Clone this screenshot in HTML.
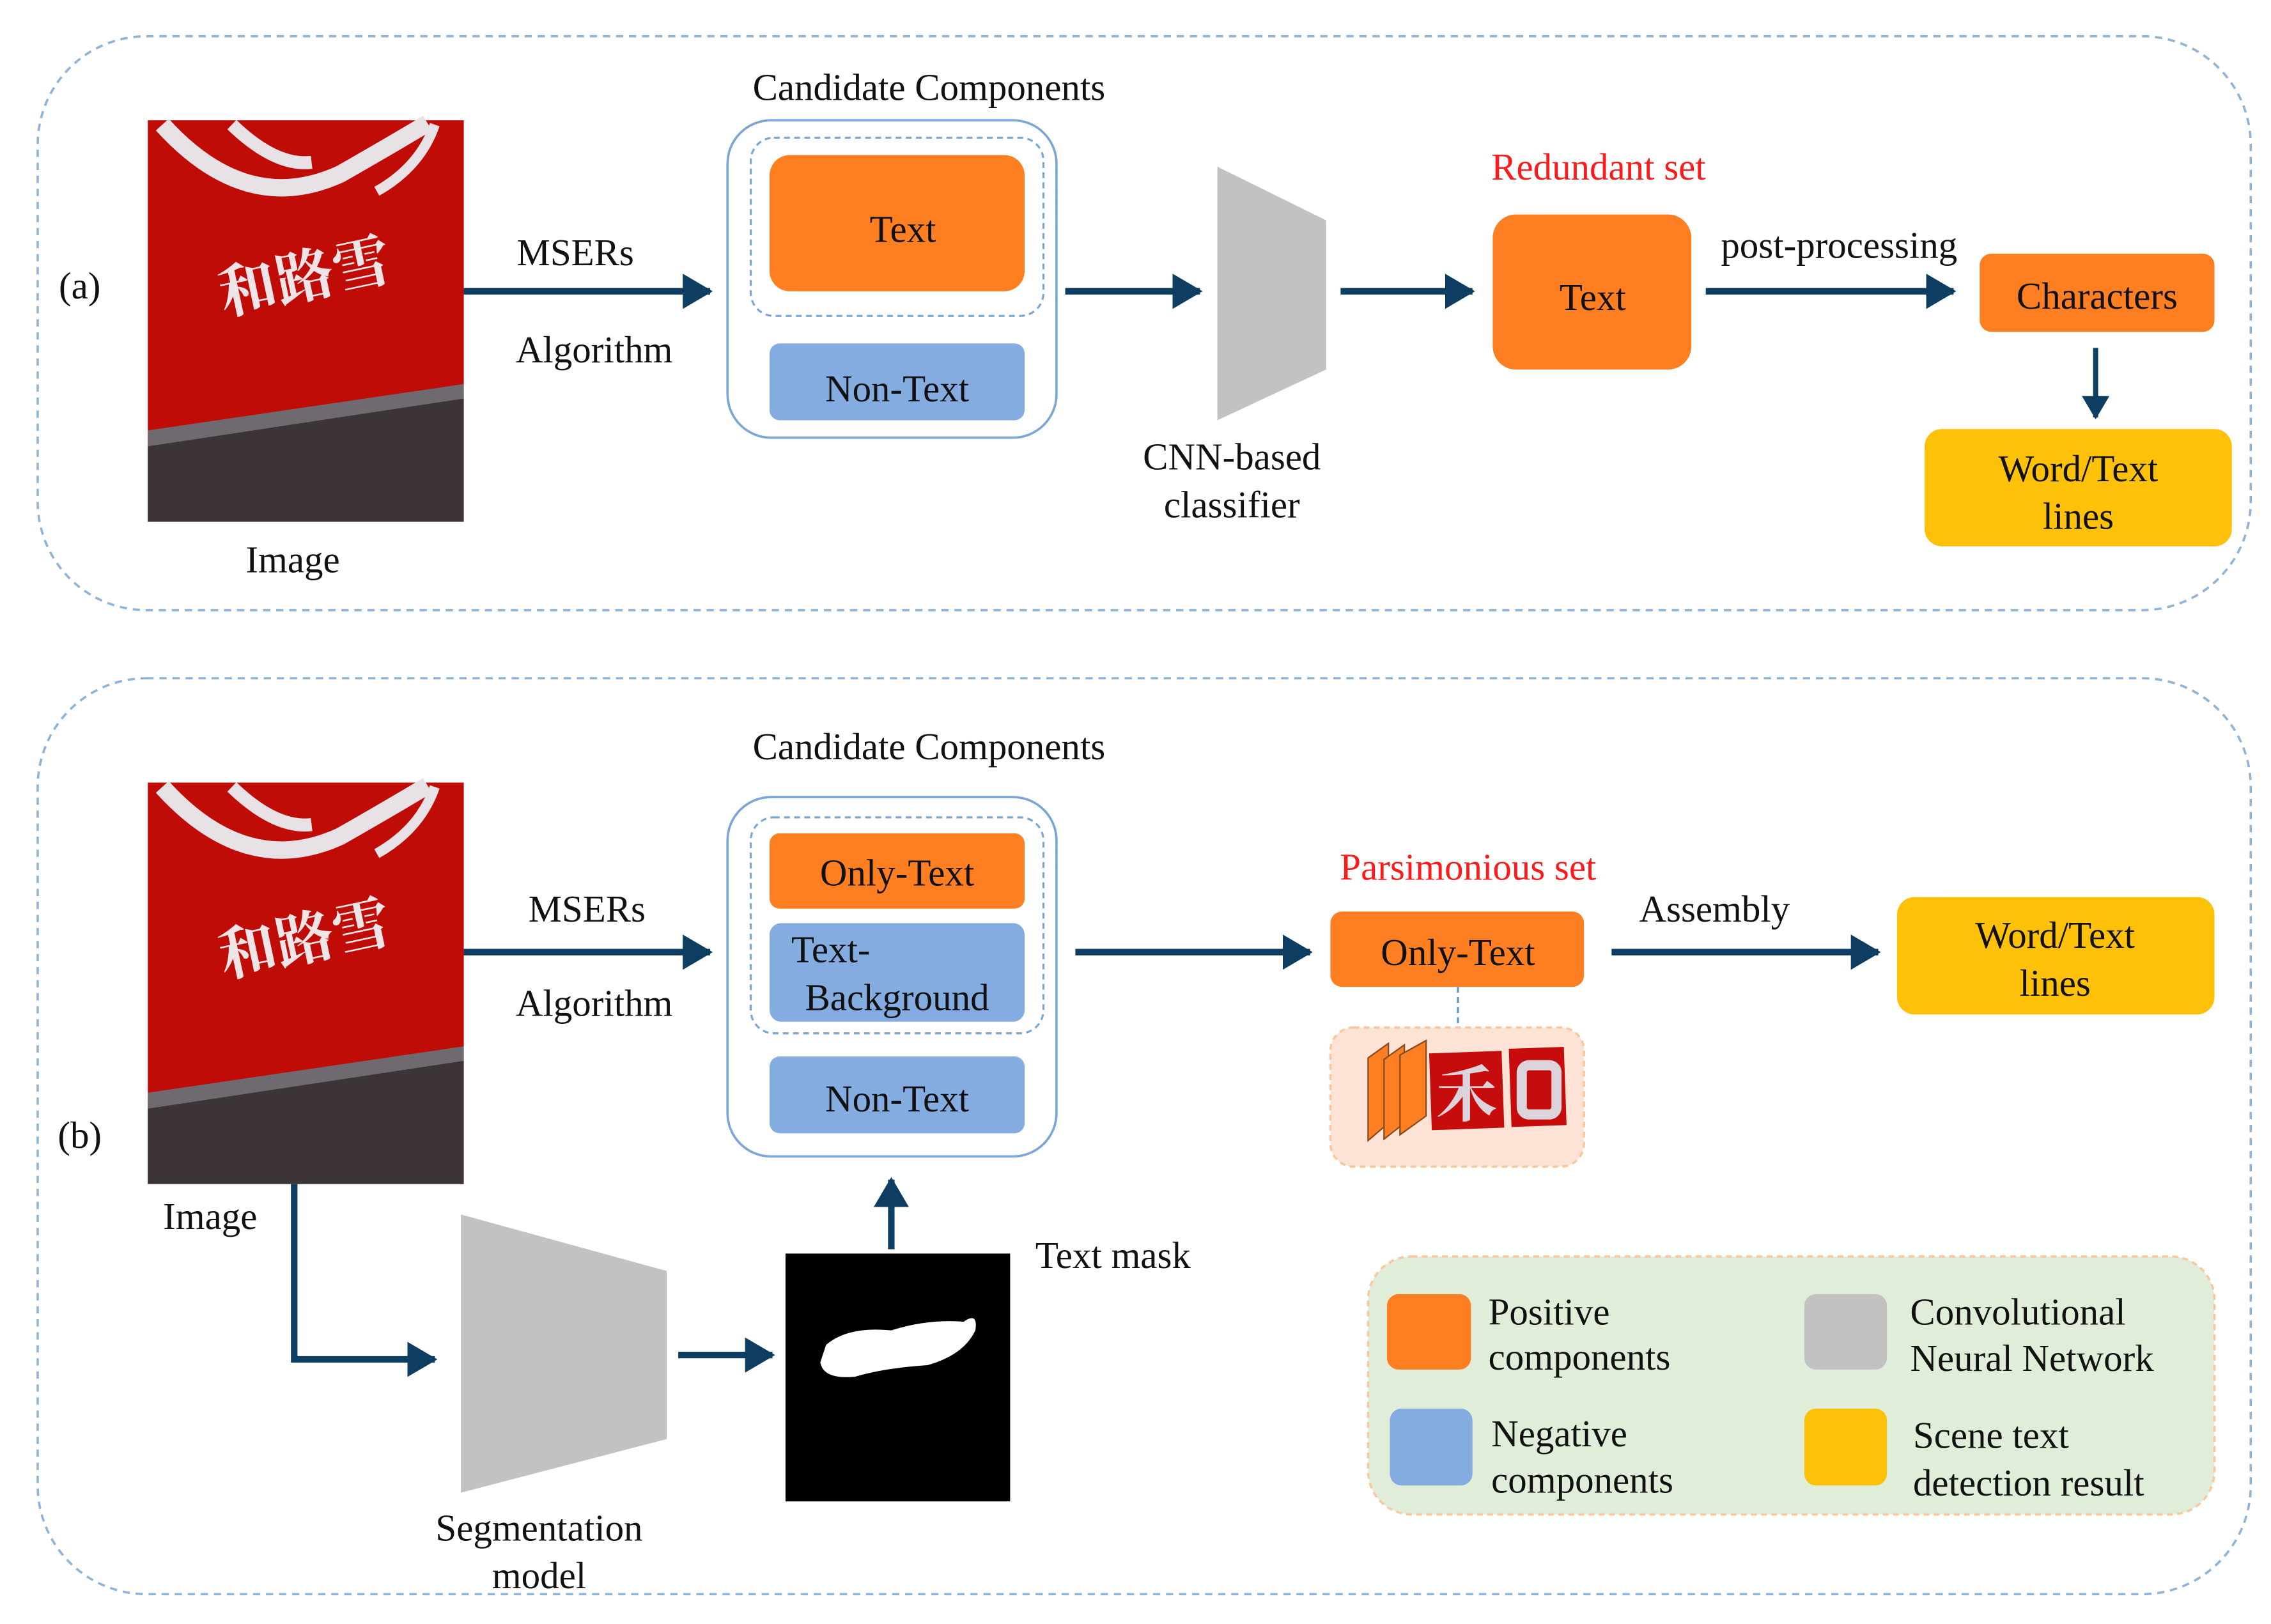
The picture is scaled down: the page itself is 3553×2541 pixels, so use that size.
<!DOCTYPE html>
<html><head><meta charset="utf-8"><style>
html,body{margin:0;padding:0;background:#fff;}
svg{display:block;}
text{font-family:"Liberation Serif","Noto Serif CJK SC",serif;}
</style></head><body>
<svg width="3553" height="2541" viewBox="0 0 1567 1120.6" preserveAspectRatio="none" xmlns="http://www.w3.org/2000/svg">
<defs>
<marker id="ah" markerWidth="6" markerHeight="6" refX="4.2" refY="3" orient="auto" markerUnits="strokeWidth">
<path d="M0,0.3 L4.6,3 L0,5.7 Z" fill="#0e3d62"/>
</marker>
</defs>
<!-- panels -->
<rect x="26" y="25" width="1527" height="396" rx="75" fill="none" stroke="#8fb4d8" stroke-width="1.6" stroke-dasharray="5,4"/>
<rect x="26" y="468" width="1527" height="632" rx="75" fill="none" stroke="#8fb4d8" stroke-width="1.6" stroke-dasharray="5,4"/>

<g font-size="26" fill="#111">
<!-- ===== panel a ===== -->
<text x="55" y="206" text-anchor="middle">(a)</text>
<g>
<rect x="102" y="83" width="218" height="277" fill="#c00c07"/>
<path d="M102,300 L320,268 L320,360 L102,360 Z" fill="#3c3436"/>
<path d="M102,297 L320,265 L320,275 L102,308 Z" fill="#6e6a6f"/>
<path d="M112,86 Q170,150 235,120 Q270,100 295,85" fill="none" stroke="#e8e2e6" stroke-width="12"/>
<path d="M160,86 Q190,115 215,112" fill="none" stroke="#e8e2e6" stroke-width="9"/>
<path d="M300,86 Q290,115 260,132" fill="none" stroke="#e8e2e6" stroke-width="7"/>
<text x="210" y="205" font-size="40" font-weight="bold" fill="#f1e4e6" text-anchor="middle" transform="rotate(-12 210 190)" font-family="'Noto Sans CJK SC',sans-serif">和路雪</text>
</g>
<text x="202" y="395" text-anchor="middle">Image</text>

<line x1="320" y1="201" x2="490" y2="201" stroke="#0e3d62" stroke-width="4.5" marker-end="url(#ah)"/>
<text x="397" y="183" text-anchor="middle">MSERs</text>
<text x="410" y="250" text-anchor="middle">Algorithm</text>

<text x="641" y="69" text-anchor="middle">Candidate Components</text>
<rect x="502" y="83" width="227" height="219" rx="30" fill="#fff" stroke="#7aa6d6" stroke-width="1.6"/>
<rect x="518" y="95" width="202" height="123" rx="16" fill="none" stroke="#7aa6d6" stroke-width="1.4" stroke-dasharray="4,3"/>
<rect x="531" y="107" width="176" height="94" rx="14" fill="#fe7f22"/>
<text x="623" y="167" text-anchor="middle">Text</text>
<rect x="531" y="237" width="176" height="53" rx="7" fill="#84ace0"/>
<text x="619" y="277" text-anchor="middle">Non-Text</text>

<line x1="735" y1="201" x2="828" y2="201" stroke="#0e3d62" stroke-width="4.5" marker-end="url(#ah)"/>
<polygon points="840,115 915,152 915,255 840,290" fill="#c2c2c2"/>
<text x="850" y="324" text-anchor="middle">CNN-based</text>
<text x="850" y="357" text-anchor="middle">classifier</text>

<line x1="925" y1="201" x2="1016" y2="201" stroke="#0e3d62" stroke-width="4.5" marker-end="url(#ah)"/>
<text x="1103" y="124" text-anchor="middle" fill="#fb1b1b">Redundant set</text>
<rect x="1030" y="148" width="137" height="107" rx="16" fill="#fe7f22"/>
<text x="1099" y="214" text-anchor="middle">Text</text>
<text x="1269" y="178" text-anchor="middle">post-processing</text>
<line x1="1177" y1="201" x2="1348" y2="201" stroke="#0e3d62" stroke-width="4.5" marker-end="url(#ah)"/>
<rect x="1366" y="175" width="162" height="54" rx="8" fill="#fe7f22"/>
<text x="1447" y="213" text-anchor="middle">Characters</text>
<line x1="1446" y1="240" x2="1446" y2="288" stroke="#0e3d62" stroke-width="3.5" marker-end="url(#ah)"/>
<rect x="1328" y="296" width="212" height="81" rx="12" fill="#fec10a"/>
<text x="1434" y="332" text-anchor="middle">Word/Text</text>
<text x="1434" y="365" text-anchor="middle">lines</text>

<!-- ===== panel b ===== -->
<text x="55" y="792" text-anchor="middle">(b)</text>
<g>
<rect x="102" y="540" width="218" height="277" fill="#c00c07"/>
<path d="M102,757 L320,725 L320,817 L102,817 Z" fill="#3c3436"/>
<path d="M102,754 L320,722 L320,732 L102,765 Z" fill="#6e6a6f"/>
<path d="M112,543 Q170,607 235,577 Q270,557 295,542" fill="none" stroke="#e8e2e6" stroke-width="12"/>
<path d="M160,543 Q190,572 215,569" fill="none" stroke="#e8e2e6" stroke-width="9"/>
<path d="M300,543 Q290,572 260,589" fill="none" stroke="#e8e2e6" stroke-width="7"/>
<text x="210" y="662" font-size="40" font-weight="bold" fill="#f1e4e6" text-anchor="middle" transform="rotate(-12 210 647)" font-family="'Noto Sans CJK SC',sans-serif">和路雪</text>
</g>
<text x="145" y="848" text-anchor="middle">Image</text>

<line x1="320" y1="657" x2="490" y2="657" stroke="#0e3d62" stroke-width="4.5" marker-end="url(#ah)"/>
<text x="405" y="636" text-anchor="middle">MSERs</text>
<text x="410" y="701" text-anchor="middle">Algorithm</text>

<text x="641" y="524" text-anchor="middle">Candidate Components</text>
<rect x="502" y="550" width="227" height="248" rx="30" fill="#fff" stroke="#7aa6d6" stroke-width="1.6"/>
<rect x="518" y="564" width="202" height="149" rx="16" fill="none" stroke="#7aa6d6" stroke-width="1.4" stroke-dasharray="4,3"/>
<rect x="531" y="575" width="176" height="52" rx="7" fill="#fe7f22"/>
<text x="619" y="611" text-anchor="middle">Only-Text</text>
<rect x="531" y="637" width="176" height="68" rx="8" fill="#84ace0"/>
<text x="546" y="664">Text-</text>
<text x="619" y="697" text-anchor="middle">Background</text>
<rect x="531" y="729" width="176" height="53" rx="7" fill="#84ace0"/>
<text x="619" y="767" text-anchor="middle">Non-Text</text>

<line x1="742" y1="657" x2="904" y2="657" stroke="#0e3d62" stroke-width="4.5" marker-end="url(#ah)"/>
<text x="1013" y="607" text-anchor="middle" fill="#fb1b1b">Parsimonious set</text>
<rect x="918" y="629" width="175" height="52" rx="8" fill="#fe7f22"/>
<text x="1006" y="666" text-anchor="middle">Only-Text</text>
<line x1="1006" y1="681" x2="1006" y2="709" stroke="#5b93cf" stroke-width="1.4" stroke-dasharray="4,3"/>
<rect x="918" y="709" width="175" height="96" rx="16" fill="#fde3d6" stroke="#fcc79f" stroke-width="1.6" stroke-dasharray="4,3"/>
<polygon points="944,730 958,720 958,775 944,787" fill="#fe7f22" stroke="#8a4a1e" stroke-width="1"/>
<polygon points="955,731 969,721 969,775 955,786" fill="#fe7f22" stroke="#8a4a1e" stroke-width="1"/>
<polygon points="966,728 984,718 984,770 966,783" fill="#fe7f22" stroke="#8a4a1e" stroke-width="1"/>
<rect x="987" y="726" width="50" height="53" fill="#c60c0c" transform="rotate(-2 1012 752)"/>
<rect x="1042" y="723" width="38" height="54" fill="#c60c0c" transform="rotate(-2 1061 750)"/>
<text x="1012" y="770" font-size="42" font-weight="bold" fill="#dcd4da" text-anchor="middle" font-family="'Noto Sans CJK SC',sans-serif">禾</text>
<rect x="1050" y="735" width="24" height="34" rx="5" fill="none" stroke="#dcd4da" stroke-width="7"/>

<text x="1183" y="636" text-anchor="middle">Assembly</text>
<line x1="1112" y1="657" x2="1296" y2="657" stroke="#0e3d62" stroke-width="4.5" marker-end="url(#ah)"/>
<rect x="1309" y="619" width="219" height="81" rx="12" fill="#fec10a"/>
<text x="1418" y="654" text-anchor="middle">Word/Text</text>
<text x="1418" y="687" text-anchor="middle">lines</text>

<!-- segmentation -->
<polyline points="203,817 203,938 300,938" fill="none" stroke="#0e3d62" stroke-width="4.5" marker-end="url(#ah)"/>
<polygon points="318,838 460,877 460,993 318,1030" fill="#c2c2c2"/>
<text x="372" y="1063" text-anchor="middle">Segmentation</text>
<text x="372" y="1096" text-anchor="middle">model</text>
<line x1="468" y1="935" x2="533" y2="935" stroke="#0e3d62" stroke-width="4.5" marker-end="url(#ah)"/>
<rect x="542" y="865" width="155" height="171" fill="#000"/>
<path d="M570,928 Q585,915 615,918 Q640,910 665,912 Q675,905 673,918 Q665,935 640,942 Q610,944 590,950 Q568,952 566,940 Z" fill="#fff"/>
<line x1="615" y1="862" x2="615" y2="814" stroke="#0e3d62" stroke-width="4.5" marker-end="url(#ah)"/>
<text x="768" y="875" text-anchor="middle">Text mask</text>

<!-- legend -->
<rect x="944" y="867" width="584" height="178" rx="30" fill="#e0eed9" stroke="#fcc79f" stroke-width="1.6" stroke-dasharray="4,3"/>
<rect x="957" y="893" width="58" height="52" rx="8" fill="#fe7f22"/>
<rect x="1245" y="893" width="57" height="52" rx="8" fill="#c2c2c2"/>
<rect x="959" y="972" width="57" height="53" rx="8" fill="#84ace0"/>
<rect x="1245" y="972" width="57" height="53" rx="8" fill="#fec10a"/>
<text x="1027" y="914">Positive</text>
<text x="1027" y="945">components</text>
<text x="1318" y="914">Convolutional</text>
<text x="1318" y="946">Neural Network</text>
<text x="1029" y="998">Negative</text>
<text x="1029" y="1030">components</text>
<text x="1320" y="999">Scene text</text>
<text x="1320" y="1032">detection result</text>
</g>
</svg>
</body></html>
